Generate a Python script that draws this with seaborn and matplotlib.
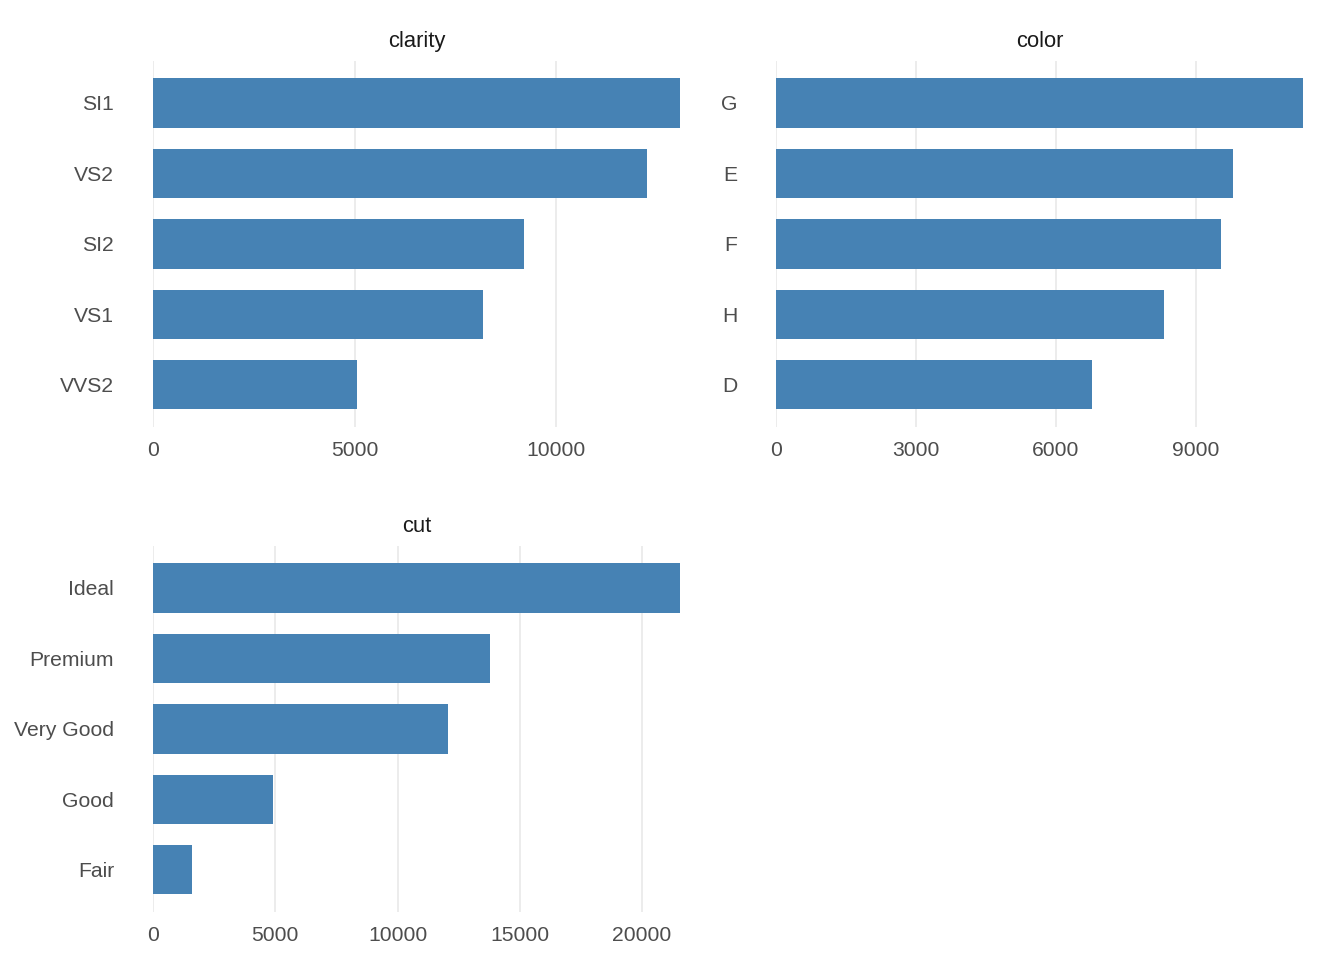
"""Horizontal bar counts of diamond categories, three panels."""

import matplotlib

matplotlib.use("Agg")
import matplotlib.pyplot as plt
import seaborn as sns

clarity_levels = ["SI1", "VS2", "SI2", "VS1", "VVS2"]
clarity_counts = [13065, 12258, 9194, 8171, 5066]

color_levels = ["G", "E", "F", "H", "D"]
color_counts = [11292, 9797, 9542, 8304, 6775]

cut_levels = ["Ideal", "Premium", "Very Good", "Good", "Fair"]
cut_counts = [21551, 13791, 12082, 4906, 1610]

clarity_ticks = [0, 5000, 10000]
color_ticks = [0, 3000, 6000, 9000]
cut_ticks = [0, 5000, 10000, 15000, 20000]

W, H = 1344, 960
BAR = "#4682B4"


def panel(fig, rect, title, levels, counts, ticks):
    ax = fig.add_axes(rect)
    sns.barplot(x=counts, y=levels, color=BAR, width=0.7, saturation=1,
                orient="h", linewidth=0, ax=ax)
    ax.set_xlim(0, max(counts))
    ax.set_ylim(len(levels) - 0.4, -0.6)
    ax.set_xticks(ticks)
    ax.set_xticklabels([str(t) for t in ticks])
    ax.grid(axis="x", color="#EBEBEB", linewidth=1.3)
    ax.grid(axis="y", visible=False)
    ax.set_axisbelow(True)
    for s in ax.spines.values():
        s.set_visible(False)
    ax.tick_params(axis="both", length=0, labelsize=15.2, labelcolor="#4D4D4D")
    ax.tick_params(axis="y", pad=28)
    ax.tick_params(axis="x", pad=10)
    ax.set_xlabel("")
    ax.set_ylabel("")
    ax.set_title(title, fontsize=15.8, color="#1A1A1A", pad=10)
    return ax


def main() -> None:
    sns.set_style("white")
    plt.rcParams["font.family"] = ["Liberation Sans", "DejaVu Sans"]

    fig = plt.figure(figsize=(W / 100, H / 100), dpi=100)
    pw = 527 / W
    ph = 366.3 / H
    panel(fig, [153 / W, 1 - 427 / H, pw, ph], "clarity",
          clarity_levels, clarity_counts, clarity_ticks)
    panel(fig, [776 / W, 1 - 427 / H, pw, ph], "color",
          color_levels, color_counts, color_ticks)
    panel(fig, [153 / W, 1 - 912 / H, pw, ph], "cut",
          cut_levels, cut_counts, cut_ticks)

    fig.savefig("out.png", dpi=100)


if __name__ == "__main__":
    main()
